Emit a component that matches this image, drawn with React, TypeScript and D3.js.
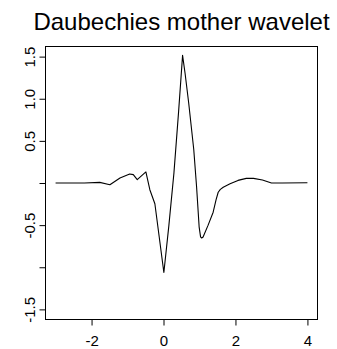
import { useEffect, useRef } from 'react';
import * as d3 from 'd3';

const title = 'Daubechies mother wavelet';

// wavelet curve
const waveX = [
  -3, -2.2, -1.77, -1.49, -1.21, -0.94, -0.84, -0.73, -0.49, -0.38, -0.24, 0.01, 0.15, 0.29,
  0.42, 0.53, 0.6, 0.7, 0.84, 0.92, 0.99, 1.03, 1.06, 1.1, 1.24, 1.38, 1.46, 1.52, 1.58, 1.66,
  1.85, 2.07, 2.3, 2.5, 2.75, 3.0, 3.3, 4.0,
];
const waveY = [
  0, 0, 0.007, -0.02, 0.06, 0.107, 0.099, 0.039, 0.131, -0.08, -0.246, -1.062, -0.5, 0.12,
  0.85, 1.515, 1.3, 0.95, 0.4, -0.05, -0.52, -0.64, -0.653, -0.641, -0.5, -0.347, -0.2, -0.11,
  -0.075, -0.05, -0.01, 0.031, 0.055, 0.055, 0.035, 0, 0, 0.003,
];

const xTicks = [-2, 0, 2, 4];
const yTicks = [-1.5, -1, -0.5, 0, 0.5, 1, 1.5];
const yTickLabels = ['-1.5', '', '-0.5', '', '0.5', '1.0', '1.5'];

const FONT = '"Liberation Sans", Arial, Helvetica, sans-serif';

export default function App() {
  const svgRef = useRef<SVGSVGElement>(null);

  useEffect(() => {
    if (!svgRef.current) return;
    const width = 337;
    const height = 349;
    const plot = { left: 45.5, right: 317.5, top: 46.5, bottom: 319.5 };

    const svg = d3.select(svgRef.current);
    svg.selectAll('*').remove();
    svg.attr('width', width).attr('height', height);

    const x = d3.scaleLinear().domain([-3.28, 4.28]).range([plot.left, plot.right]);
    const y = d3.scaleLinear().domain([-1.62, 1.62]).range([plot.bottom, plot.top]);

    // Title
    svg
      .append('text')
      .attr('x', (plot.left + plot.right) / 2)
      .attr('y', 30)
      .attr('text-anchor', 'middle')
      .attr('font-family', FONT)
      .attr('font-size', 24)
      .attr('fill', '#000')
      .text(title);

    // Curve
    const pts = waveX.map((d, i) => [d, waveY[i]] as [number, number]);
    const line = d3
      .line<[number, number]>()
      .x((d) => x(d[0]))
      .y((d) => y(d[1]));
    svg
      .append('path')
      .attr('d', line(pts) ?? '')
      .attr('fill', 'none')
      .attr('stroke', '#000')
      .attr('stroke-width', 1.1)
      .attr('stroke-linejoin', 'round');

    // Box
    svg
      .append('rect')
      .attr('x', plot.left)
      .attr('y', plot.top)
      .attr('width', plot.right - plot.left)
      .attr('height', plot.bottom - plot.top)
      .attr('fill', 'none')
      .attr('stroke', '#000')
      .attr('stroke-width', 1);

    // X axis
    const xAxis = d3
      .axisBottom(x)
      .tickValues(xTicks)
      .tickSize(6)
      .tickFormat((d) => String(d));
    const gx = svg.append('g').attr('transform', `translate(0,${plot.bottom})`).call(xAxis);
    gx.select('.domain').remove();
    gx.selectAll('line').attr('stroke', '#000');
    gx.selectAll('text')
      .attr('font-family', FONT)
      .attr('font-size', 15)
      .attr('fill', '#000')
      .attr('dy', null)
      .attr('y', 26);

    // Y axis
    const yAxis = d3
      .axisLeft(y)
      .tickValues(yTicks)
      .tickSize(6)
      .tickFormat((_, i) => yTickLabels[i]);
    const gy = svg.append('g').attr('transform', `translate(${plot.left},0)`).call(yAxis);
    gy.select('.domain').remove();
    gy.selectAll('line').attr('stroke', '#000');
    gy.selectAll('text')
      .attr('font-family', FONT)
      .attr('font-size', 15)
      .attr('fill', '#000')
      .attr('text-anchor', 'middle')
      .attr('x', 0)
      .attr('dy', null)
      .attr('y', -10.5)
      .attr('transform', 'rotate(-90)');
  }, []);

  return (
    <svg
      ref={svgRef}
      style={{ position: 'absolute', left: 0, top: 0, background: '#fff' }}
    />
  );
}
